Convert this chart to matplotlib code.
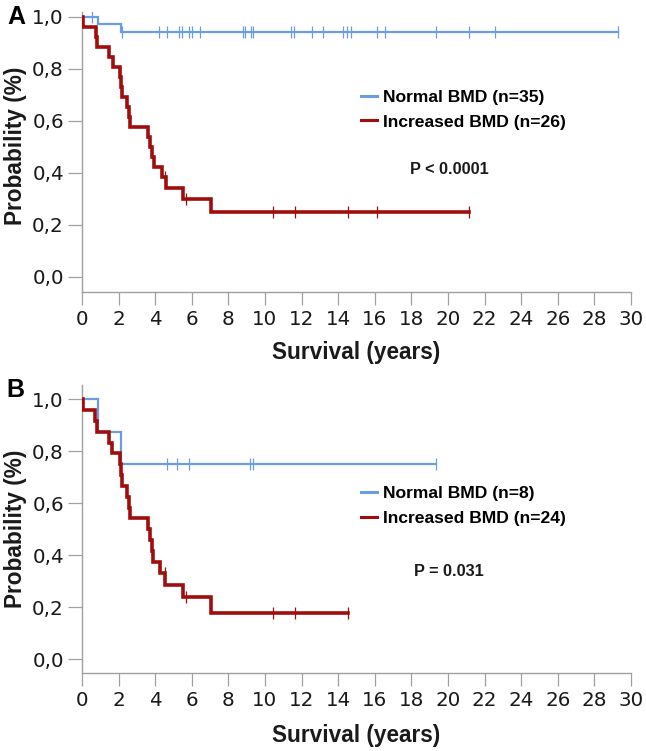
import numpy as np
import matplotlib
matplotlib.use("Agg")
import matplotlib.pyplot as plt
from matplotlib.lines import Line2D
from matplotlib.ticker import FuncFormatter

# ---------------- data ----------------
x_ticks = [0, 2, 4, 6, 8, 10, 12, 14, 16, 18, 20, 22, 24, 26, 28, 30]
y_ticks = [0.0, 0.2, 0.4, 0.6, 0.8, 1.0]

# Panel A
a_norm_times = [0.0, 0.89, 2.11, 29.27]
a_norm_surv = [1.0, 0.971, 0.941, 0.941]
a_norm_cens = [0.53, 2.17, 4.21, 4.63, 5.30, 5.45, 5.85, 6.03, 6.47, 8.78, 8.90,
               9.22, 9.36, 11.42, 11.60, 12.59, 13.15, 14.24, 14.46, 14.68, 16.10,
               16.56, 19.34, 21.16, 22.57, 29.27]

a_inc_times = [0.0, 0.07, 0.75, 0.82, 1.47, 1.67, 2.08, 2.15, 2.18, 2.44, 2.57, 2.62,
               3.59, 3.72, 3.84, 3.93, 4.35, 4.58, 5.54, 7.03, 21.16]
a_inc_surv = [1.0, 0.962, 0.923, 0.885, 0.846, 0.808, 0.769, 0.731, 0.692, 0.654,
              0.615, 0.577, 0.538, 0.500, 0.462, 0.423, 0.385, 0.342, 0.299, 0.249, 0.249]
a_inc_cens = [4.55, 5.66, 10.42, 11.62, 14.54, 16.10, 21.16]

# Panel B
b_norm_times = [0.0, 0.89, 2.13, 19.34]
b_norm_surv = [1.0, 0.875, 0.75, 0.75]
b_norm_cens = [4.63, 5.21, 5.85, 9.18, 9.36, 19.34]

b_inc_times = [0.0, 0.07, 0.69, 0.80, 1.47, 1.65, 2.08, 2.13, 2.17, 2.44, 2.57, 2.62,
               3.59, 3.72, 3.81, 3.90, 4.26, 4.55, 5.54, 7.03, 14.56]
b_inc_surv = [1.0, 0.958, 0.917, 0.875, 0.833, 0.792, 0.750, 0.708, 0.667, 0.625,
              0.583, 0.542, 0.500, 0.458, 0.417, 0.375, 0.333, 0.286, 0.238, 0.179, 0.179]
b_inc_cens = [4.52, 5.66, 10.42, 11.62, 14.56]

labels_a = ["Normal BMD (n=35)", "Increased BMD (n=26)"]
labels_b = ["Normal BMD (n=8)", "Increased BMD (n=24)"]
pvals = ["P < 0.0001", "P = 0.031"]
panel_letters = ["A", "B"]
xlabel = "Survival (years)"
ylabel = "Probability (%)"

# ---------------- style ----------------
BLUE = "#6b9de3"
RED = "#a00d0d"
SPINE = "#a0a0a0"
TICKFONT = "DejaVu Sans"
BOLDFONT = "Liberation Sans"

fig = plt.figure(figsize=(6.46, 7.51), dpi=100)
W, H = 646, 751


def ax_rect(left, top, right, bottom):
    return [left / W, (H - bottom) / H, (right - left) / W, (bottom - top) / H]


def step_with_censor(ax, times, surv, cens, color, lw, mlw):
    ax.step(times, surv, where="post", color=color, lw=lw, solid_joinstyle="miter",
            zorder=3 if color == RED else 2)
    t = np.asarray(times)
    s = np.asarray(surv)
    idx = np.searchsorted(t, np.asarray(cens), side="right") - 1
    ax.plot(cens, s[idx], linestyle="none", marker="|", markersize=8,
            markeredgewidth=mlw, color=color, zorder=4)


def style_axes(ax, ylim, ylab_y):
    ax.set_xlim(0, 30)
    ax.set_ylim(*ylim)
    for sp in ["top", "right"]:
        ax.spines[sp].set_visible(False)
    for sp in ["left", "bottom"]:
        ax.spines[sp].set_color(SPINE)
        ax.spines[sp].set_linewidth(1.0)
    ax.set_xticks(x_ticks)
    ax.set_yticks(y_ticks)
    ax.yaxis.set_major_formatter(FuncFormatter(lambda v, p: f"{v:.1f}".replace(".", ",")))
    ax.tick_params(axis="x", length=9, width=0.9, color=SPINE, pad=4.0,
                   labelsize=14.3, labelcolor="#1a1a1a")
    ax.tick_params(axis="y", length=10, width=0.9, color=SPINE, pad=3.0,
                   labelsize=14.3, labelcolor="#1a1a1a")
    for lab in ax.get_xticklabels() + ax.get_yticklabels():
        lab.set_family(TICKFONT)
    ax.set_xlabel(xlabel, family=BOLDFONT, fontweight="bold", fontsize=16.3,
                  va="center", color="#1a1a1a")
    ax.xaxis.set_label_coords(0.499, -0.215)
    ax.set_ylabel(ylabel, family=BOLDFONT, fontweight="bold", fontsize=16.3,
                  va="center", color="#1a1a1a")
    ax.yaxis.set_label_coords(-0.122, ylab_y)


def legend(ax, labels, anchor):
    handles = [Line2D([0], [0], color=BLUE, lw=2.2), Line2D([0], [0], color=RED, lw=2.2)]
    ax.legend(handles, labels, loc="center left", bbox_to_anchor=anchor,
              bbox_transform=fig.transFigure, frameon=False, borderpad=0,
              handlelength=0.95, handletextpad=0.3, labelspacing=0.55,
              prop={"family": BOLDFONT, "weight": "bold", "size": 12.6})


# Panel A
axA = fig.add_axes(ax_rect(82, 12, 631, 292.3))
step_with_censor(axA, a_norm_times, a_norm_surv, a_norm_cens, BLUE, 1.6, 0.9)
step_with_censor(axA, a_inc_times, a_inc_surv, a_inc_cens, RED, 2.6, 0.9)
style_axes(axA, (-0.060, 1.018), 0.522)
legend(axA, labels_a, (352 / W, 1 - 109.5 / H))
fig.text(449 / W, 1 - 170 / H, pvals[0], family=BOLDFONT, fontweight="bold",
         fontsize=11.7, ha="center", va="center", color="#1a1a1a")

# Panel B
axB = fig.add_axes(ax_rect(82, 385, 631, 673.3))
step_with_censor(axB, b_norm_times, b_norm_surv, b_norm_cens, BLUE, 1.6, 0.9)
step_with_censor(axB, b_inc_times, b_inc_surv, b_inc_cens, RED, 2.6, 0.9)
style_axes(axB, (-0.054, 1.054), 0.5)
legend(axB, labels_b, (352 / W, 1 - 506 / H))
fig.text(449 / W, 1 - 571 / H, pvals[1], family=BOLDFONT, fontweight="bold",
         fontsize=11.7, ha="center", va="center", color="#1a1a1a")

# Panel letters
fig.text(16 / W, 1 - 17.5 / H, panel_letters[0], family=BOLDFONT, fontweight="bold",
         fontsize=18, ha="center", va="center")
fig.text(15.5 / W, 1 - 390 / H, panel_letters[1], family=BOLDFONT, fontweight="bold",
         fontsize=18, ha="center", va="center")

fig.savefig("out.png", dpi=100)
